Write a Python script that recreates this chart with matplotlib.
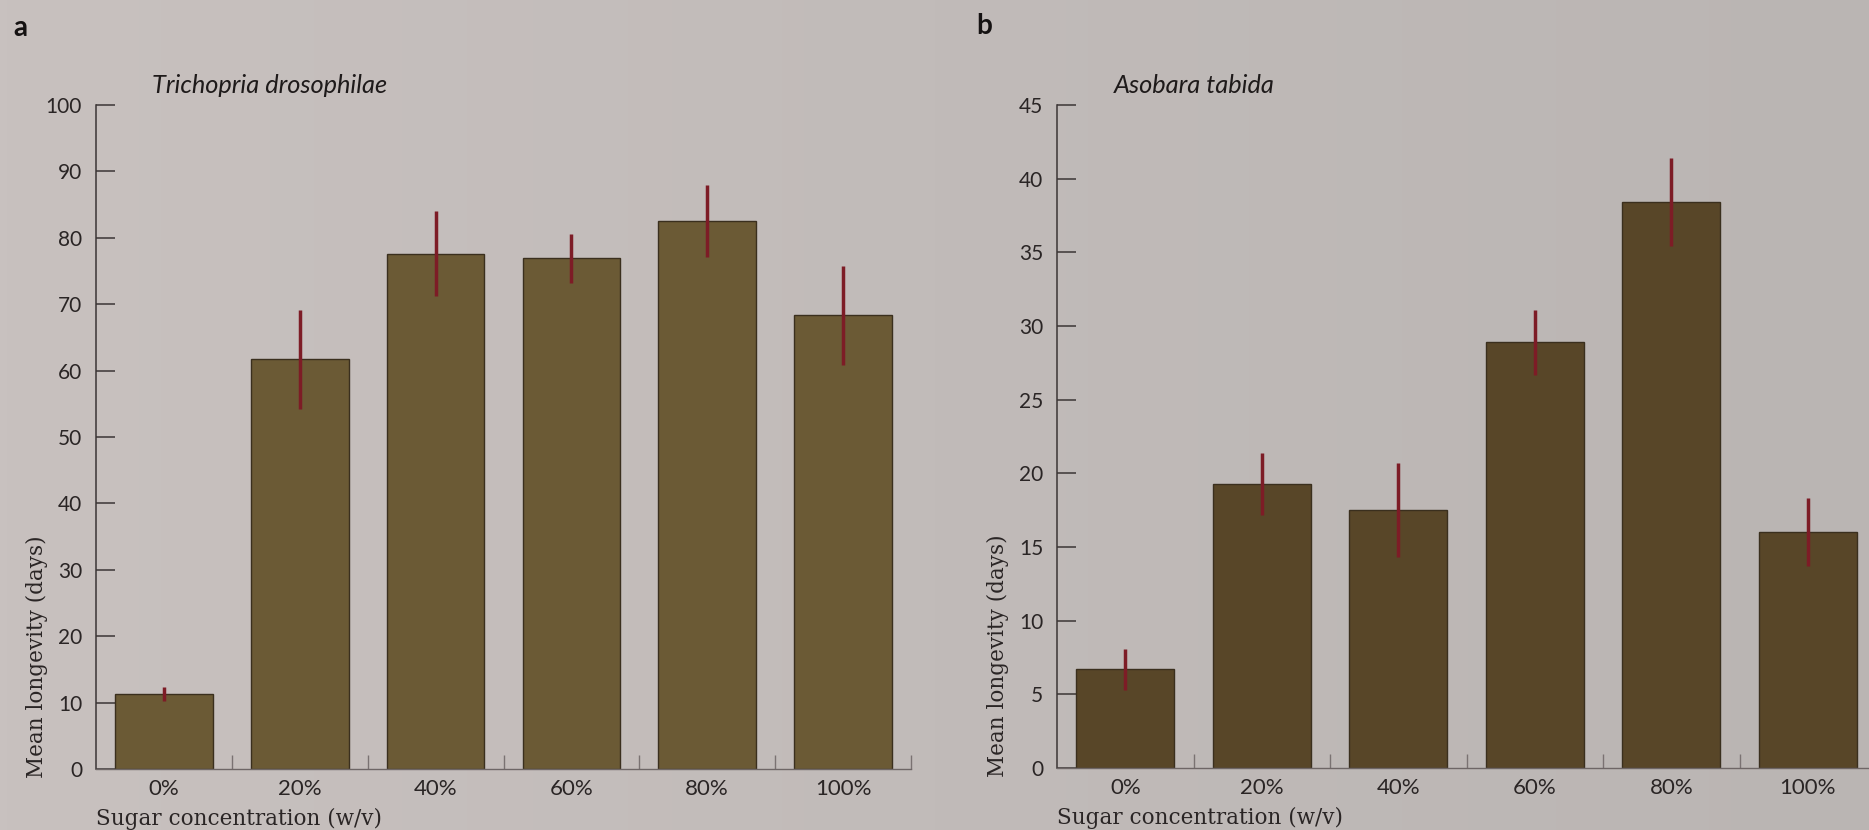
import matplotlib
matplotlib.use('Agg')
import matplotlib.pyplot as plt
import numpy as np

# ---- data ----
categories = ['0%', '20%', '40%', '60%', '80%', '100%']
trich_mean = [11.3, 61.7, 77.6, 76.9, 82.5, 68.3]
trich_err = [1.0, 7.5, 6.4, 3.7, 5.4, 7.5]
asob_mean = [6.7, 19.3, 17.5, 28.9, 38.4, 16.0]
asob_err = [1.4, 2.1, 3.2, 2.2, 3.0, 2.3]
trich_yticks = [0, 10, 20, 30, 40, 50, 60, 70, 80, 90, 100]
asob_yticks = [0, 5, 10, 15, 20, 25, 30, 35, 40, 45]

W, H = 1869, 830
fig = plt.figure(figsize=(W / 100, H / 100), dpi=100)

# paper-like background gradient
bg = fig.add_axes([0, 0, 1, 1], zorder=-10)
g = np.linspace(0, 1, 256)
c_left = np.array([200, 193, 191]) / 255
c_right = np.array([186, 181, 179]) / 255
img = c_left[None, None, :] * (1 - g[None, :, None]) + c_right[None, None, :] * g[None, :, None]
bg.imshow(img, aspect='auto', extent=[0, 1, 0, 1])
bg.axis('off')

TICKFONT = 'Lato'
SERIF = 'DejaVu Serif'


def panel(rect, means, errs, yticks, title, barcolor):
    ax = fig.add_axes(rect)
    ax.set_facecolor('none')
    x = np.arange(len(categories))
    ax.bar(x, means, width=0.72, color=barcolor, edgecolor='#3a2f1e',
           linewidth=1.0, zorder=2)
    ax.errorbar(x, means, yerr=errs, fmt='none', ecolor='#7d1c26',
                elinewidth=2.5, capsize=0, zorder=3)
    ax.set_xlim(-0.5, len(categories) - 0.5)
    ax.set_ylim(0, yticks[-1])
    for s in ('top', 'right'):
        ax.spines[s].set_visible(False)
    ax.spines['left'].set_color('#3b3535')
    ax.spines['left'].set_linewidth(1.1)
    ax.spines['bottom'].set_color('#6e6666')
    ax.spines['bottom'].set_linewidth(1.0)

    ax.set_yticks(yticks)
    ax.set_yticklabels([str(v) for v in yticks], family=TICKFONT, fontsize=15,
                       color='#2a2525')
    ax.tick_params(axis='y', direction='in', length=14, width=1.1,
                   color='#3b3535', pad=10)

    ax.set_xticks(x)
    ax.set_xticklabels(categories, family=TICKFONT, fontsize=16,
                       color='#2a2525')
    ax.tick_params(axis='x', which='major', length=0, pad=7)
    ax.set_xticks(np.arange(0.5, len(categories), 1), minor=True)
    ax.tick_params(axis='x', which='minor', direction='in', length=10,
                   width=1.0, color='#7a7272')

    ax.set_ylabel('Mean longevity (days)', family=SERIF, fontsize=15.5,
                  color='#2a2525')
    ax.yaxis.set_label_coords(-0.072, 0.169)
    ax.yaxis.label.set_va('center')
    ax.yaxis.label.set_ha('center')

    ax.set_xlabel('Sugar concentration (w/v)', family=SERIF, fontsize=15.5,
                  color='#2a2525')
    ax.xaxis.set_label_coords(0.0, -0.084)
    ax.xaxis.label.set_ha('left')
    ax.xaxis.label.set_va('baseline')

    ax.text(0.069, 1.018, title, transform=ax.transAxes, family=TICKFONT,
            style='italic', fontsize=18.3, color='#1e1a1a', ha='left',
            va='baseline')
    return ax


axA = panel([96 / W, 61 / H, 815 / W, 664 / H], trich_mean, trich_err,
            trich_yticks, 'Trichopria drosophilae', '#6b5a35')
axB = panel([1057 / W, 62 / H, 819 / W, 663 / H], asob_mean, asob_err,
            asob_yticks, 'Asobara tabida', '#584628')

fig.text(13 / W, 1 - 36 / H, 'a', family=TICKFONT, fontweight='bold',
         fontsize=20, color='#151212', ha='left', va='baseline')
fig.text(976 / W, 1 - 34 / H, 'b', family=TICKFONT, fontweight='bold',
         fontsize=20, color='#151212', ha='left', va='baseline')

fig.savefig('out.png', dpi=100)
